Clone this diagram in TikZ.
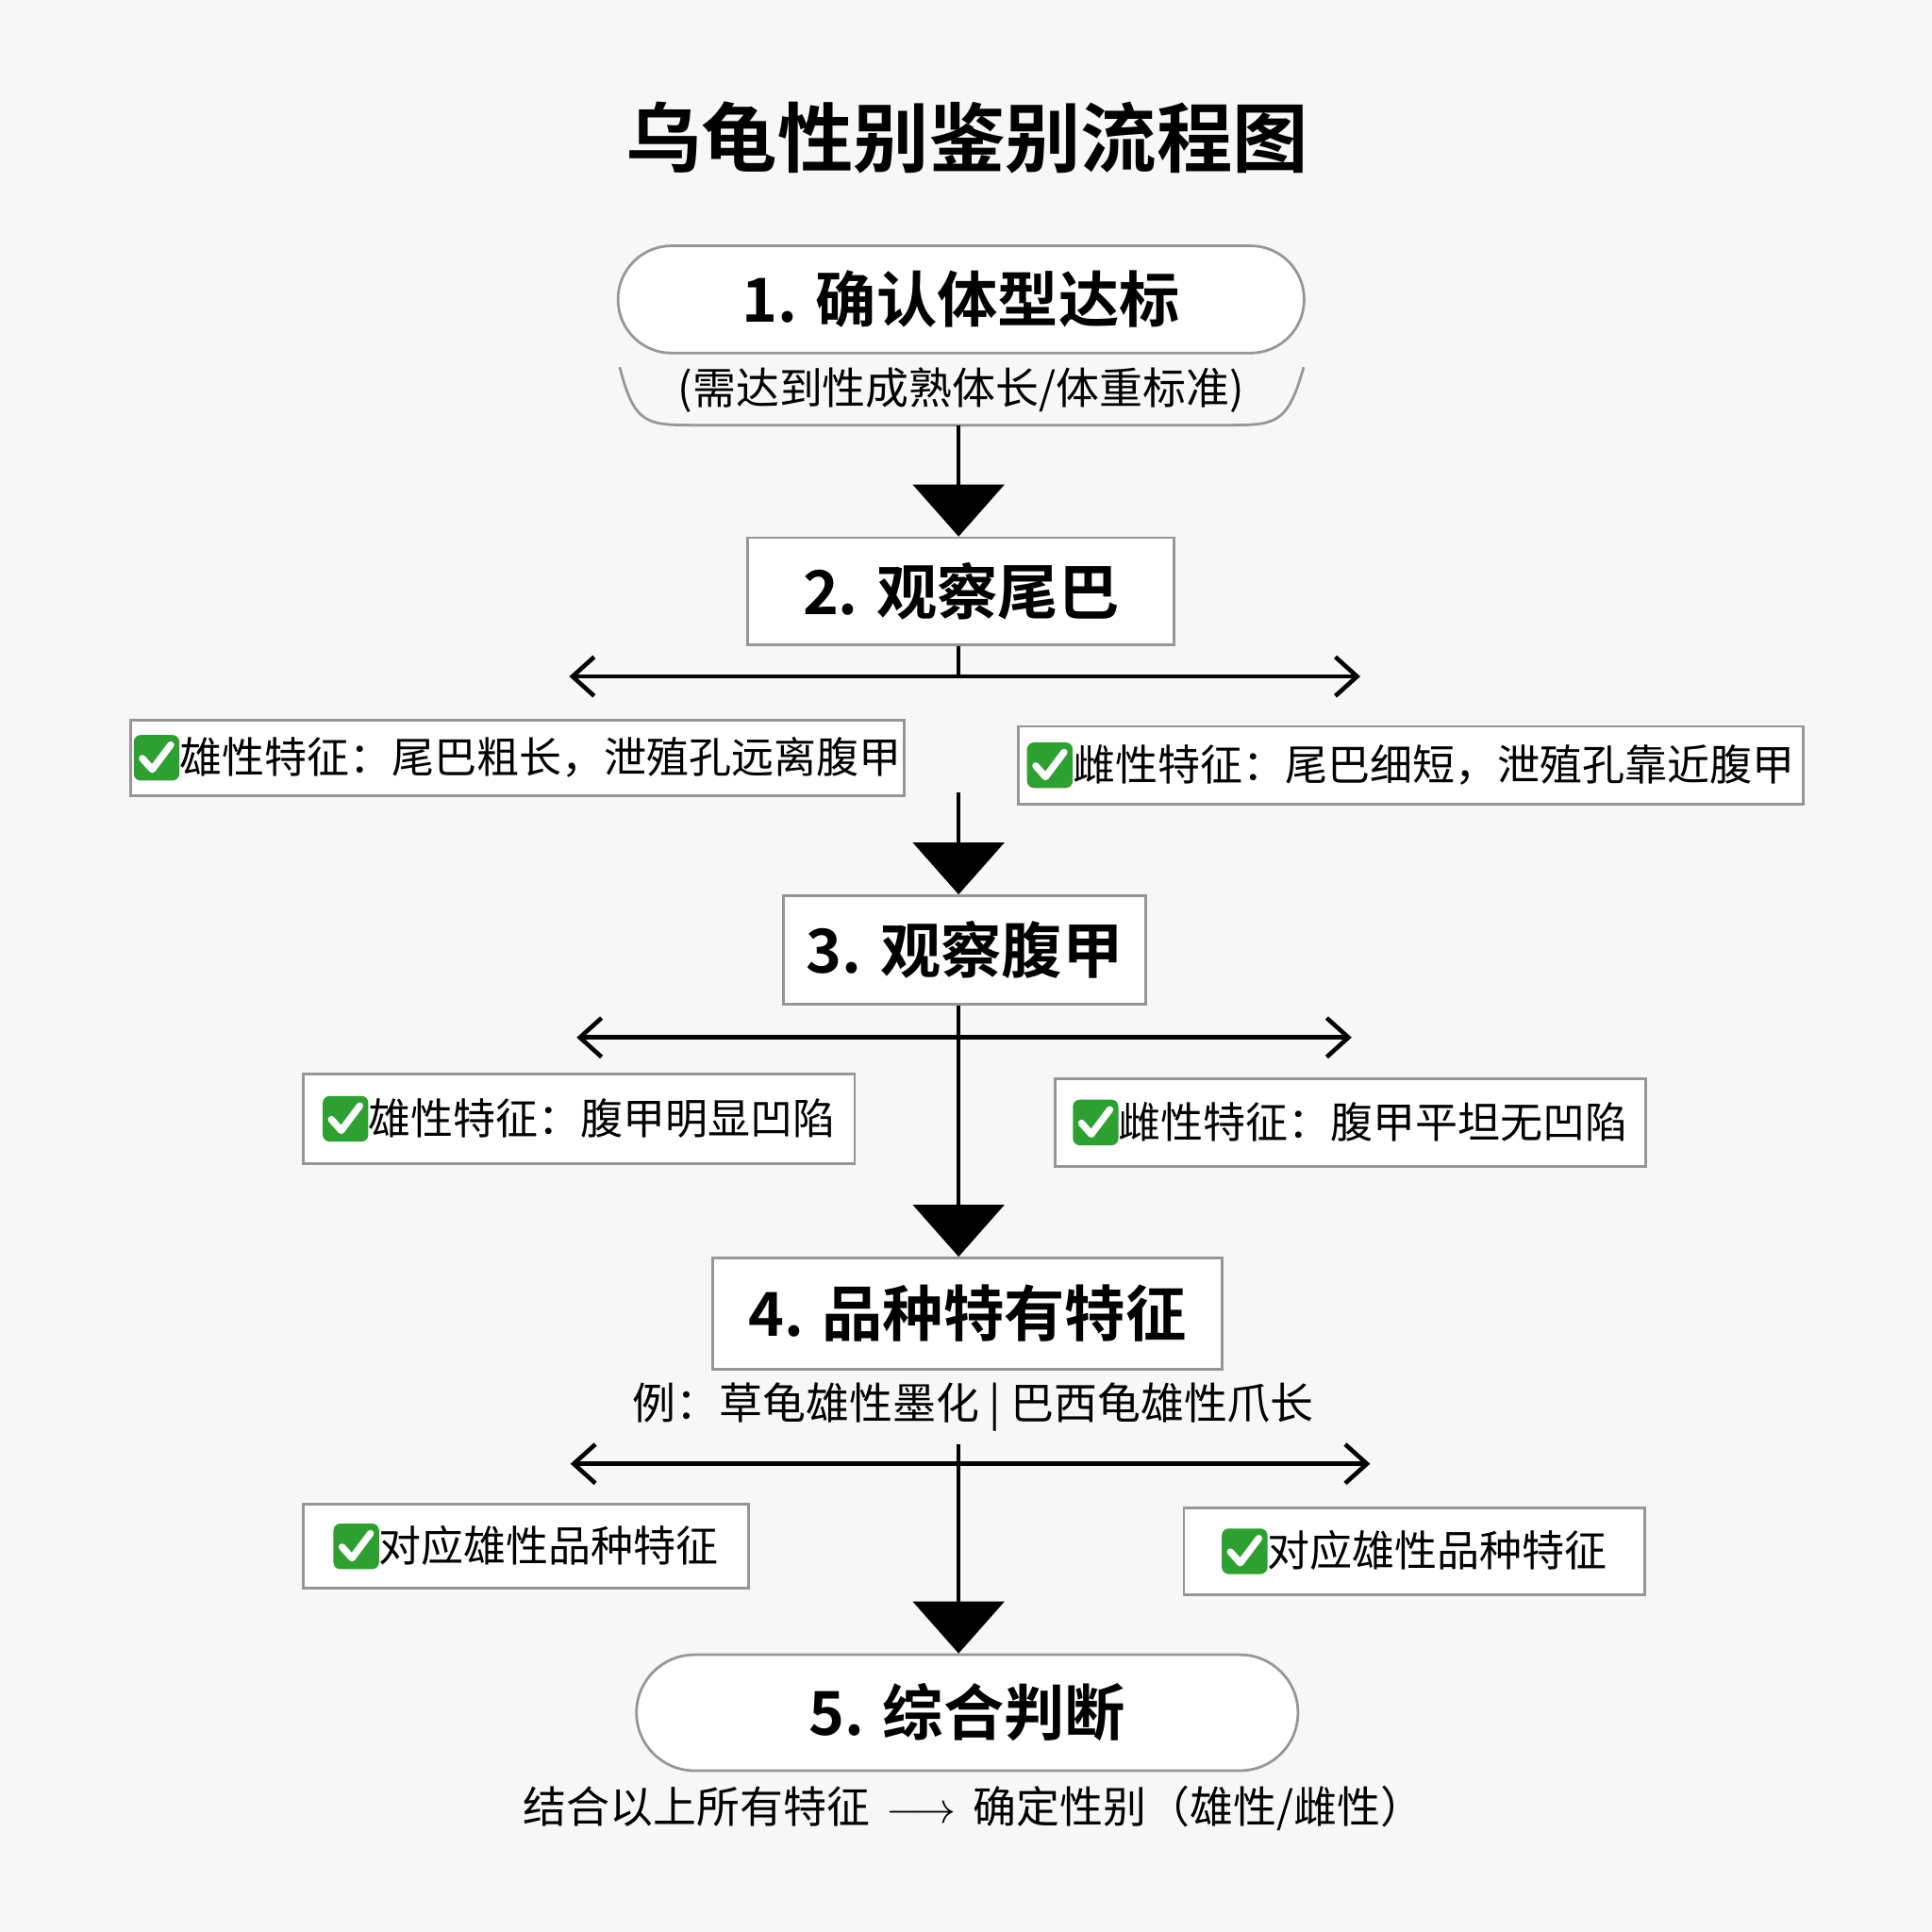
\documentclass[tikz,border=0pt]{standalone}
\usepackage{fontspec}
\setmainfont{Noto Sans CJK SC}[BoldFont={Noto Sans CJK SC Bold}]
\usetikzlibrary{arrows.meta, shapes.misc}
\definecolor{paper}{RGB}{247, 247, 247}
\definecolor{frame}{RGB}{150, 150, 150}
\definecolor{tick}{RGB}{46, 160, 50}

\newcommand{\chk}{\tikz[baseline=-0.24cm, x=1cm, y=1cm]{
  \fill[tick, rounded corners=1.6pt] (0,-0.30) rectangle (0.37,0.07);
  \draw[white, line width=1.6pt, line cap=round, line join=round] (0.07,-0.12) -- (0.15,-0.21) -- (0.30,-0.01);}}

\tikzset{
  stagebox/.style={draw=frame, fill=white, line width=0.6pt, font=\fontsize{14}{16}\selectfont\bfseries},
  roundbox/.style={stagebox, rounded rectangle},
  featbox/.style={draw=frame, fill=white, line width=0.6pt, font=\fontsize{9.8}{12}\selectfont, inner sep=0pt},
  note/.style={font=\fontsize{10}{12}\selectfont},
  bigarrow/.style={-{Triangle[width=21pt, length=12pt]}, line width=1pt},
  splitarrow/.style={{Straight Barb[length=5pt, width=9pt]}-{Straight Barb[length=5pt, width=9pt]}, line width=1pt}
}

\begin{document}
\begin{tikzpicture}[x=0.01cm, y=-0.01cm]
  \fill[paper] (0, 0) rectangle (1568, 1568);

  \node[font=\fontsize{17.5}{20}\selectfont\bfseries] (title) at (785, 112) {乌龟性别鉴别流程图};

  % stage 1
  \node[roundbox, minimum width=5.8cm, minimum height=0.87cm] (stage1) at (780, 243) {1. 确认体型达标};
  \draw[frame, line width=0.6pt] (503, 298) .. controls (515, 345) and (525, 345) .. (565, 345) -- (995, 345)
    .. controls (1035, 345) and (1045, 345) .. (1058, 298);
  \node[note] (size) at (780, 317) {(需达到性成熟体长/体重标准)};
  \coordinate (size end) at (778, 345);

  % stage 2
  \node[stagebox, minimum width=3.46cm, minimum height=0.87cm] (stage2) at (780, 480) {2. 观察尾巴};
  \draw[bigarrow] (size end) -- (stage2.north -| size end);
  \coordinate (tailL) at (462, 549);
  \coordinate (tailR) at (1104, 549);
  \draw[splitarrow] (tailL) -- (tailR);
  \draw[line width=1pt] (stage2.south -| size end) -- (778, 549);
  \node[featbox, minimum width=6.27cm, minimum height=0.61cm] (tailM) at (420, 615) {\chk 雄性特征：尾巴粗长，泄殖孔远离腹甲};
  \node[featbox, minimum width=6.37cm, minimum height=0.63cm] (tailF) at (1145, 621) {\chk 雌性特征：尾巴细短，泄殖孔靠近腹甲};

  % stage 3
  \node[stagebox, minimum width=2.94cm, minimum height=0.88cm] (stage3) at (783, 771) {3. 观察腹甲};
  \coordinate (tail end) at (778, 643);
  \draw[bigarrow] (tail end) -- (stage3.north -| tail end);
  \coordinate (shellL) at (468, 842);
  \coordinate (shellR) at (1097, 842);
  \draw[splitarrow] (shellL) -- (shellR);
  \node[featbox, minimum width=4.47cm, minimum height=0.73cm] (shellM) at (470, 908) {\chk 雄性特征：腹甲明显凹陷};
  \node[featbox, minimum width=4.79cm, minimum height=0.71cm] (shellF) at (1096, 911) {\chk 雌性特征：腹甲平坦无凹陷};

  % stage 4
  \node[stagebox, minimum width=4.13cm, minimum height=0.90cm] (stage4) at (785, 1066) {4. 品种特有特征};
  \draw[bigarrow] (stage3.south -| tail end) -- (stage4.north -| tail end);
  \node[note] (example) at (790, 1142) {例：草龟雄性墨化 | 巴西龟雄性爪长};
  \coordinate (breedL) at (463, 1188);
  \coordinate (breedR) at (1112, 1188);
  \draw[splitarrow] (breedL) -- (breedR);
  \node[featbox, minimum width=3.61cm, minimum height=0.68cm] (breedM) at (427, 1255) {\chk 对应雄性品种特征};
  \node[featbox, minimum width=3.74cm, minimum height=0.70cm] (breedF) at (1148, 1259) {\chk 对应雄性品种特征};

  % stage 5
  \node[roundbox, minimum width=5.6cm, minimum height=0.94cm] (stage5) at (785, 1390) {5. 综合判断};
  \coordinate (breed top) at (778, 1172);
  \draw[bigarrow] (breed top) -- (stage5.north -| breed top);
  \node[note] (result) at (790, 1468) {结合以上所有特征 \,$\longrightarrow$\, 确定性别（雄性/雌性）};
\end{tikzpicture}
\end{document}
